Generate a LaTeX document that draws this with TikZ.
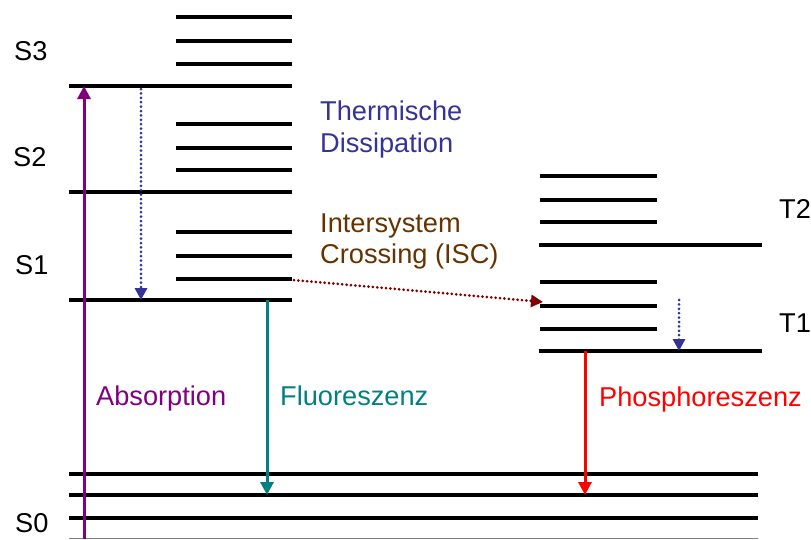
\documentclass[tikz,border=0pt]{standalone}
\usepackage{fontspec}
\setmainfont{Liberation Sans}
\usetikzlibrary{arrows.meta}
\definecolor{thermblue}{RGB}{51,51,153}
\definecolor{iscbrown}{RGB}{102,51,0}
\definecolor{abspurple}{RGB}{128,0,128}
\definecolor{fluoteal}{RGB}{0,128,128}
\definecolor{phosred}{RGB}{255,0,0}
\definecolor{iscred}{RGB}{128,0,0}
\begin{document}
\begin{tikzpicture}[x=1pt,y=-1pt,
  level/.style={line width=3.4pt},
  baseline/.style={line width=1.2pt, gray},
  lbl/.style={anchor=base west, inner sep=0pt, font=\fontsize{27.2}{32}\selectfont},
  solidarrow/.style={line width=3pt, -{Triangle[length=13pt,width=13pt]}},
  dotarrow/.style={line width=3pt, line cap=round, dash pattern=on 0pt off 4.4pt, -{Triangle[length=12pt,width=12pt,line cap=butt]}}]
\useasboundingbox (0,0) rectangle (811,539);

% ---- singlet levels (left)
\foreach \n/\y in {a/17,b/41,c/64,d/124,e/148,f/170,g/232,h/256,i/279}{
  \coordinate (sl\n) at (176,\y);
  \coordinate (sr\n) at (292,\y);
  \draw[level] (sl\n) -- (sr\n);
}
\foreach \n/\y in {S3/86,S2/192,S1/300}{
  \coordinate (\n l) at (69,\y);
  \coordinate (\n r) at (292,\y);
  \draw[level] (\n l) -- (\n r);
}
% ---- triplet levels (right)
\foreach \n/\y in {a/176,b/200,c/222,d/282,e/306,f/329}{
  \coordinate (tl\n) at (540,\y);
  \coordinate (tr\n) at (657,\y);
  \draw[level] (tl\n) -- (tr\n);
}
\foreach \n/\y in {T2/245,T1/351}{
  \coordinate (\n l) at (539,\y);
  \coordinate (\n r) at (762,\y);
  \draw[level] (\n l) -- (\n r);
}
% ---- ground state levels
\foreach \n/\y in {a/474,b/495,c/518}{
  \coordinate (gl\n) at (69,\y);
  \coordinate (gr\n) at (758,\y);
  \draw[level] (gl\n) -- (gr\n);
}
\coordinate (bl) at (69,538.5);
\coordinate (br) at (758,538.5);
\draw[baseline] (bl) -- (br);

% ---- state labels
\node[lbl] (lS3) at (14,60) {S3};
\node[lbl] (lS2) at (13,166) {S2};
\node[lbl] (lS1) at (15,274) {S1};
\node[lbl] (lS0) at (15,532) {S0};
\node[lbl] (lT2) at (779,218) {T2};
\node[lbl] (lT1) at (779,332) {T1};

% ---- process labels
\node[lbl, text=thermblue] (therm1) at (320,120) {Thermische};
\node[lbl, text=thermblue] (therm2) at (320,152) {Dissipation};
\node[lbl, text=iscbrown] (isc1) at (320,232) {Intersystem};
\node[lbl, text=iscbrown] (isc2) at (320,263) {Crossing (ISC)};
\node[lbl, text=abspurple] (abs) at (96,405) {Absorption};
\node[lbl, text=fluoteal] (fluo) at (280,405) {Fluoreszenz};
\node[lbl, text=phosred] (phos) at (599,406) {Phosphoreszenz};

% ---- arrows
\coordinate (absS) at (84,539);
\coordinate (absE) at (84,86);
\draw[solidarrow, abspurple] (absS) -- (absE);

\coordinate (tdS) at (141,89);
\coordinate (tdE) at (141,300);
\draw[dotarrow, thermblue] (tdS) -- (tdE);

\coordinate (fluS) at (267,300);
\coordinate (fluE) at (267,495);
\draw[solidarrow, fluoteal] (fluS) -- (fluE);

\coordinate (phS) at (585,351);
\coordinate (phE) at (585,495);
\draw[solidarrow, phosred] (phS) -- (phE);

\coordinate (iscS) at (294,280);
\coordinate (iscE) at (543,302);
\draw[dotarrow, iscred] (iscS) -- (iscE);

\coordinate (tdTS) at (679,300);
\coordinate (tdTE) at (679,351);
\draw[dotarrow, thermblue] (tdTS) -- (tdTE);
\end{tikzpicture}
\end{document}
